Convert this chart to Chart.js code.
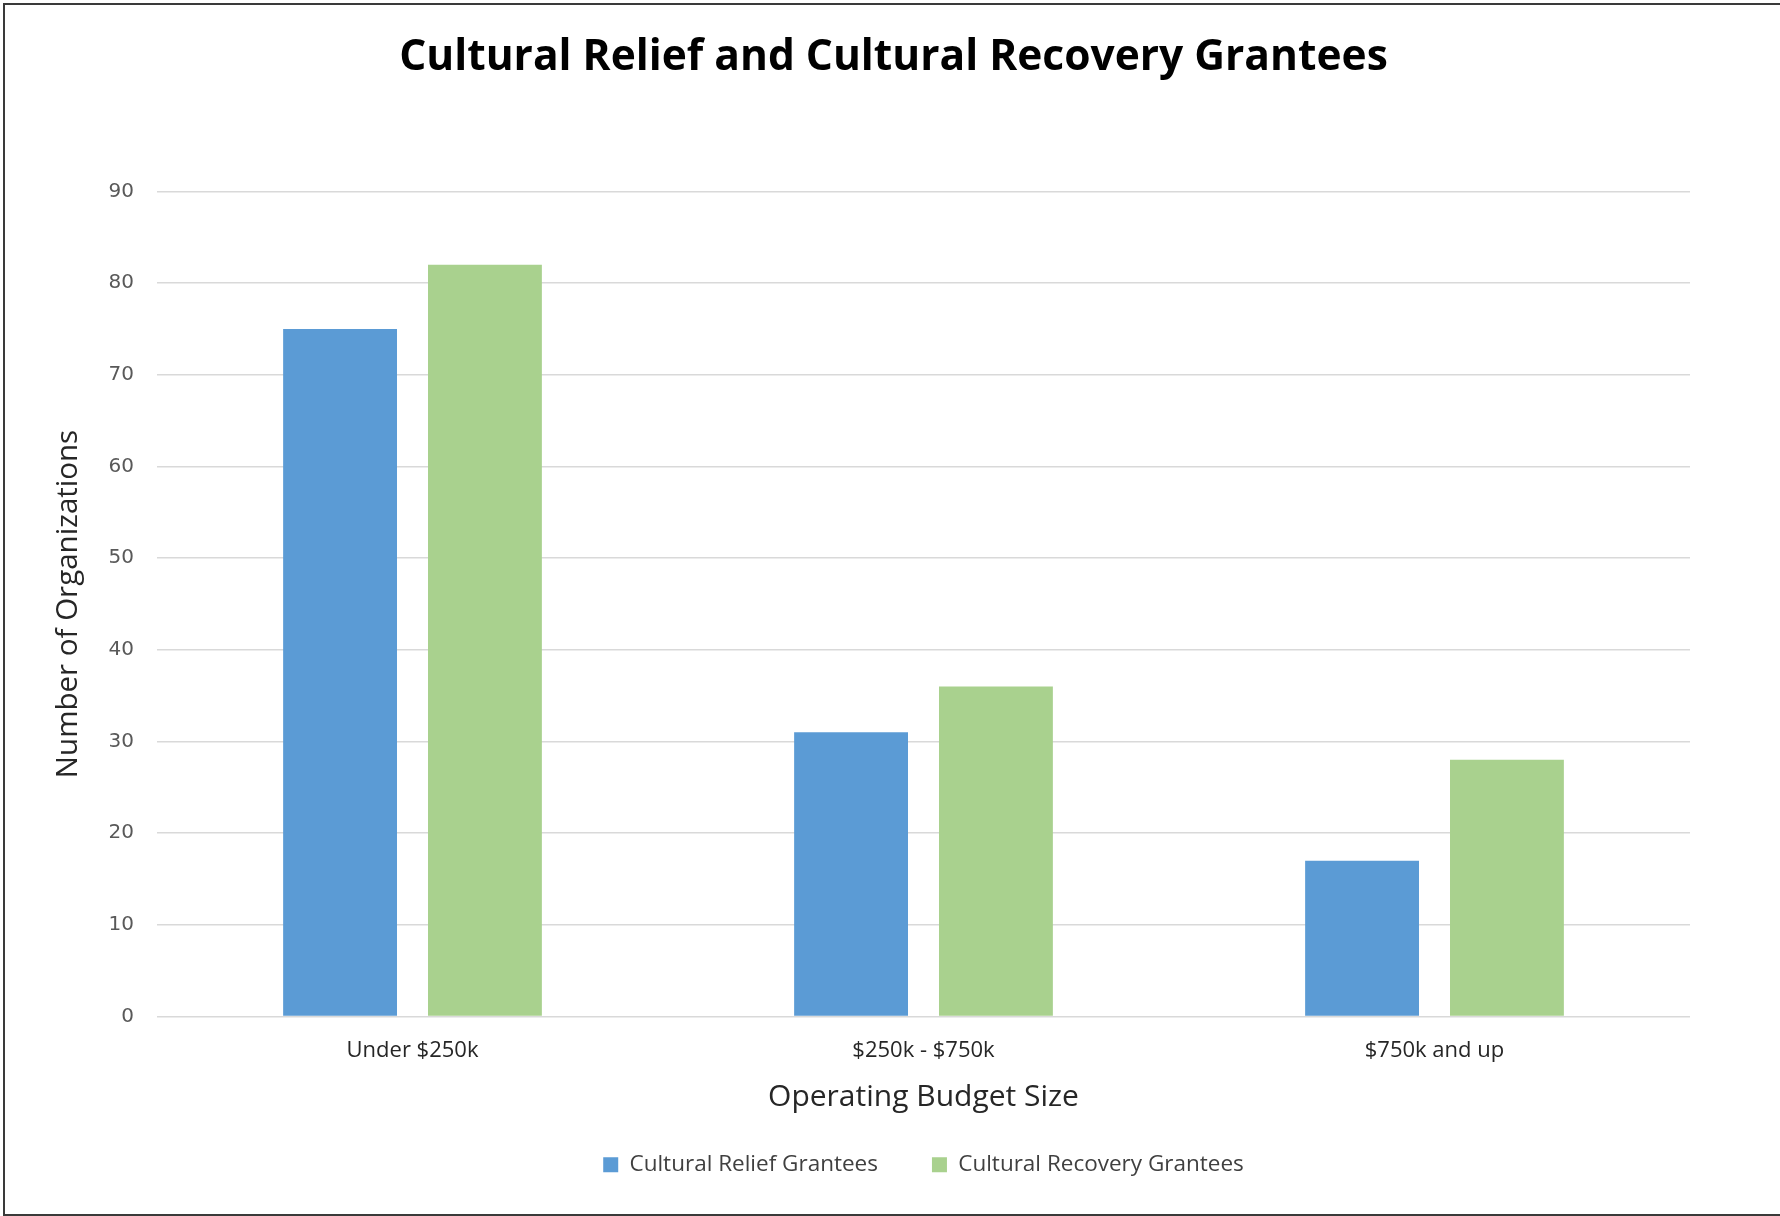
<!DOCTYPE html>
<html>
<head>
<meta charset="utf-8">
<script src="https://cdn.jsdelivr.net/npm/chart.js@4/dist/chart.umd.min.js"></script>
<style>
html, body { margin: 0; padding: 0; background: #fff; }
#wrap { position: relative; width: 1780px; height: 1216px; }
</style>
</head>
<body>
<div id="wrap"><canvas id="chart" width="1780" height="1216"></canvas></div>
<script>
const categories = ['Under $250k', '$250k - $750k', '$750k and up'];
const reliefGrantees = [75, 31, 17];
const recoveryGrantees = [82, 36, 28];
const yTicks = { min: 0, max: 90, step: 10 };

// outer frame like the exported picture (top, left and bottom edges only)
const framePlugin = {
  id: 'frame',
  afterDraw(chart) {
    const c = chart.ctx;
    c.save();
    c.strokeStyle = '#3a3a3a';
    c.lineWidth = 2;
    c.beginPath();
    c.moveTo(4, 1216);
    c.lineTo(4, 4);
    c.lineTo(1780, 4);
    c.moveTo(4, 1215);
    c.lineTo(1780, 1215);
    c.stroke();
    c.restore();
  }
};

// title centred on the framed picture, legend centred under the plot area
const recenterPlugin = {
  id: 'recenter',
  afterLayout(chart) {
    const area = chart.chartArea;
    if (chart.legend) {
      chart.legend.left = area.left;
      chart.legend.right = area.right;
      chart.legend.width = area.right - area.left;
    }
    if (chart.titleBlock) {
      chart.titleBlock.left = 7;
      chart.titleBlock.right = chart.width;
      chart.titleBlock.width = chart.width - 7;
    }
  }
};

const ctx = document.getElementById('chart').getContext('2d');
new Chart(ctx, {
  type: 'bar',
  data: {
    labels: categories,
    datasets: [
      { label: 'Cultural Relief Grantees', data: reliefGrantees, backgroundColor: '#5B9BD5' },
      { label: 'Cultural Recovery Grantees', data: recoveryGrantees, backgroundColor: '#A9D18E' }
    ]
  },
  options: {
    responsive: false,
    animation: false,
    categoryPercentage: 0.567,
    barPercentage: 0.786,
    layout: { padding: { left: 51, right: 90, top: 0, bottom: 30 } },
    plugins: {
      title: {
        display: true,
        text: 'Cultural Relief and Cultural Recovery Grantees',
        color: '#000',
        font: { family: 'Open Sans', size: 42.5, weight: '700' },
        padding: { top: 32, bottom: 108.5 }
      },
      legend: {
        position: 'bottom',
        labels: {
          color: '#404040',
          font: { family: 'Open Sans', size: 22.5 },
          boxWidth: 15,
          boxHeight: 15,
          padding: 54
        }
      },
      tooltip: { enabled: false }
    },
    scales: {
      x: {
        grid: { display: false, drawTicks: false },
        border: { display: false },
        ticks: { color: '#262626', font: { family: 'Open Sans', size: 22 }, padding: 21 },
        title: {
          display: true,
          text: 'Operating Budget Size',
          color: '#262626',
          font: { family: 'Open Sans', size: 30 },
          padding: { top: 0, bottom: -16 }
        },
        afterFit(scale) { scale.height = 83; }
      },
      y: {
        min: yTicks.min,
        max: yTicks.max,
        grid: { color: '#D9D9D9', lineWidth: 1.5, drawTicks: false },
        border: { display: false },
        ticks: {
          stepSize: yTicks.step,
          color: '#595959',
          font: { family: 'DejaVu Sans', size: 20 },
          padding: 23
        },
        title: {
          display: true,
          text: 'Number of Organizations',
          color: '#262626',
          font: { family: 'Open Sans', size: 29.5 },
          padding: { top: 0, bottom: 0 }
        },
        afterFit(scale) { scale.width = 106; }
      }
    }
  },
  plugins: [framePlugin, recenterPlugin]
});
</script>
</body>
</html>
